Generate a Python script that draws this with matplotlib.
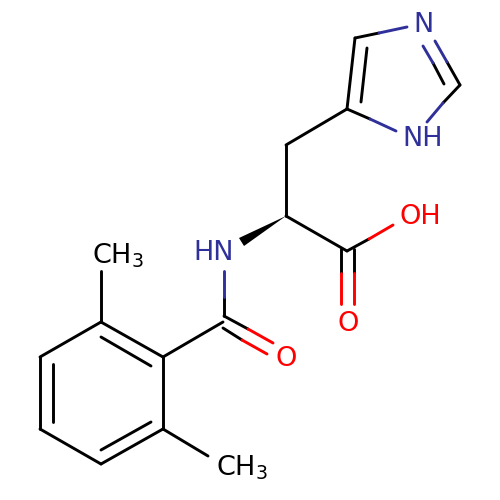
import matplotlib
matplotlib.use('Agg')
import matplotlib.pyplot as plt

# bonds in picture pixels: x0, y0, x1, y1
black_bonds = [
    (101, 322, 163, 357), (163, 357, 163, 429), (163, 429, 101, 464),
    (101, 464, 40, 429), (40, 429, 40, 357), (40, 357, 101, 322),
    (101, 337, 151, 366), (151, 422, 101, 450), (53, 364, 53, 422),
    (101, 322, 101, 271), (163, 429, 208, 456),
    (163, 357, 223, 322),
    (224, 297, 224, 316), (224, 316, 248, 329), (223, 328, 242, 340),
    (286, 216, 286, 145), (286, 145, 347, 109),
    (286, 216, 347, 251), (347, 251, 369, 239),
    (341, 249, 341, 273), (354, 249, 354, 273),
    (347, 109, 355, 38), (367, 48, 361, 102),
    (355, 38, 379, 33), (347, 109, 370, 119),
    (447, 62, 460, 85), (433, 63, 444, 84), (460, 85, 443, 103),
]
blue_bonds = [
    (224, 271, 224, 297),
    (379, 33, 407, 27), (370, 119, 396, 131),
    (435, 41, 447, 62), (423, 46, 433, 63), (443, 103, 427, 122),
]
red_bonds = [
    (248, 329, 273, 343), (242, 340, 267, 354),
    (341, 273, 341, 304), (354, 273, 354, 304),
    (369, 239, 393, 225),
]
wedge_x = [286, 239, 244]
wedge_y = [216, 238, 246]

BLUE = '#30309a'
RED = '#ff0000'

plt.rcParams['font.family'] = 'DejaVu Sans'
plt.rcParams['mathtext.default'] = 'regular'

fig = plt.figure(figsize=(5, 5), dpi=100)
ax = fig.add_axes([0, 0, 1, 1])
ax.set_xlim(0, 500)
ax.set_ylim(500, 0)
ax.axis('off')

for bonds, col in [(black_bonds, 'black'), (blue_bonds, BLUE), (red_bonds, RED)]:
    for b in bonds:
        ax.plot([b[0], b[2]], [b[1], b[3]], color=col, lw=2.1, solid_capstyle='round')

ax.fill(wedge_x, wedge_y, color='black', lw=0)

fs = 19.5
ax.text(424, 25, 'N', color=BLUE, fontsize=fs, ha='center', va='center')
ax.text(423, 139, 'NH', color=BLUE, fontsize=fs, ha='center', va='center')
ax.text(214, 253, 'HN', color=BLUE, fontsize=fs, ha='center', va='center')
ax.text(420, 217, 'OH', color=RED, fontsize=fs, ha='center', va='center')
ax.text(348, 324, 'O', color=RED, fontsize=fs, ha='center', va='center')
ax.text(286, 359, 'O', color=RED, fontsize=fs, ha='center', va='center')
ax.text(92, 263, 'CH$_3$', color='black', fontsize=fs, ha='left', va='baseline')
ax.text(216, 476, 'CH$_3$', color='black', fontsize=fs, ha='left', va='baseline')

fig.savefig('out.png', dpi=100, facecolor='white')
